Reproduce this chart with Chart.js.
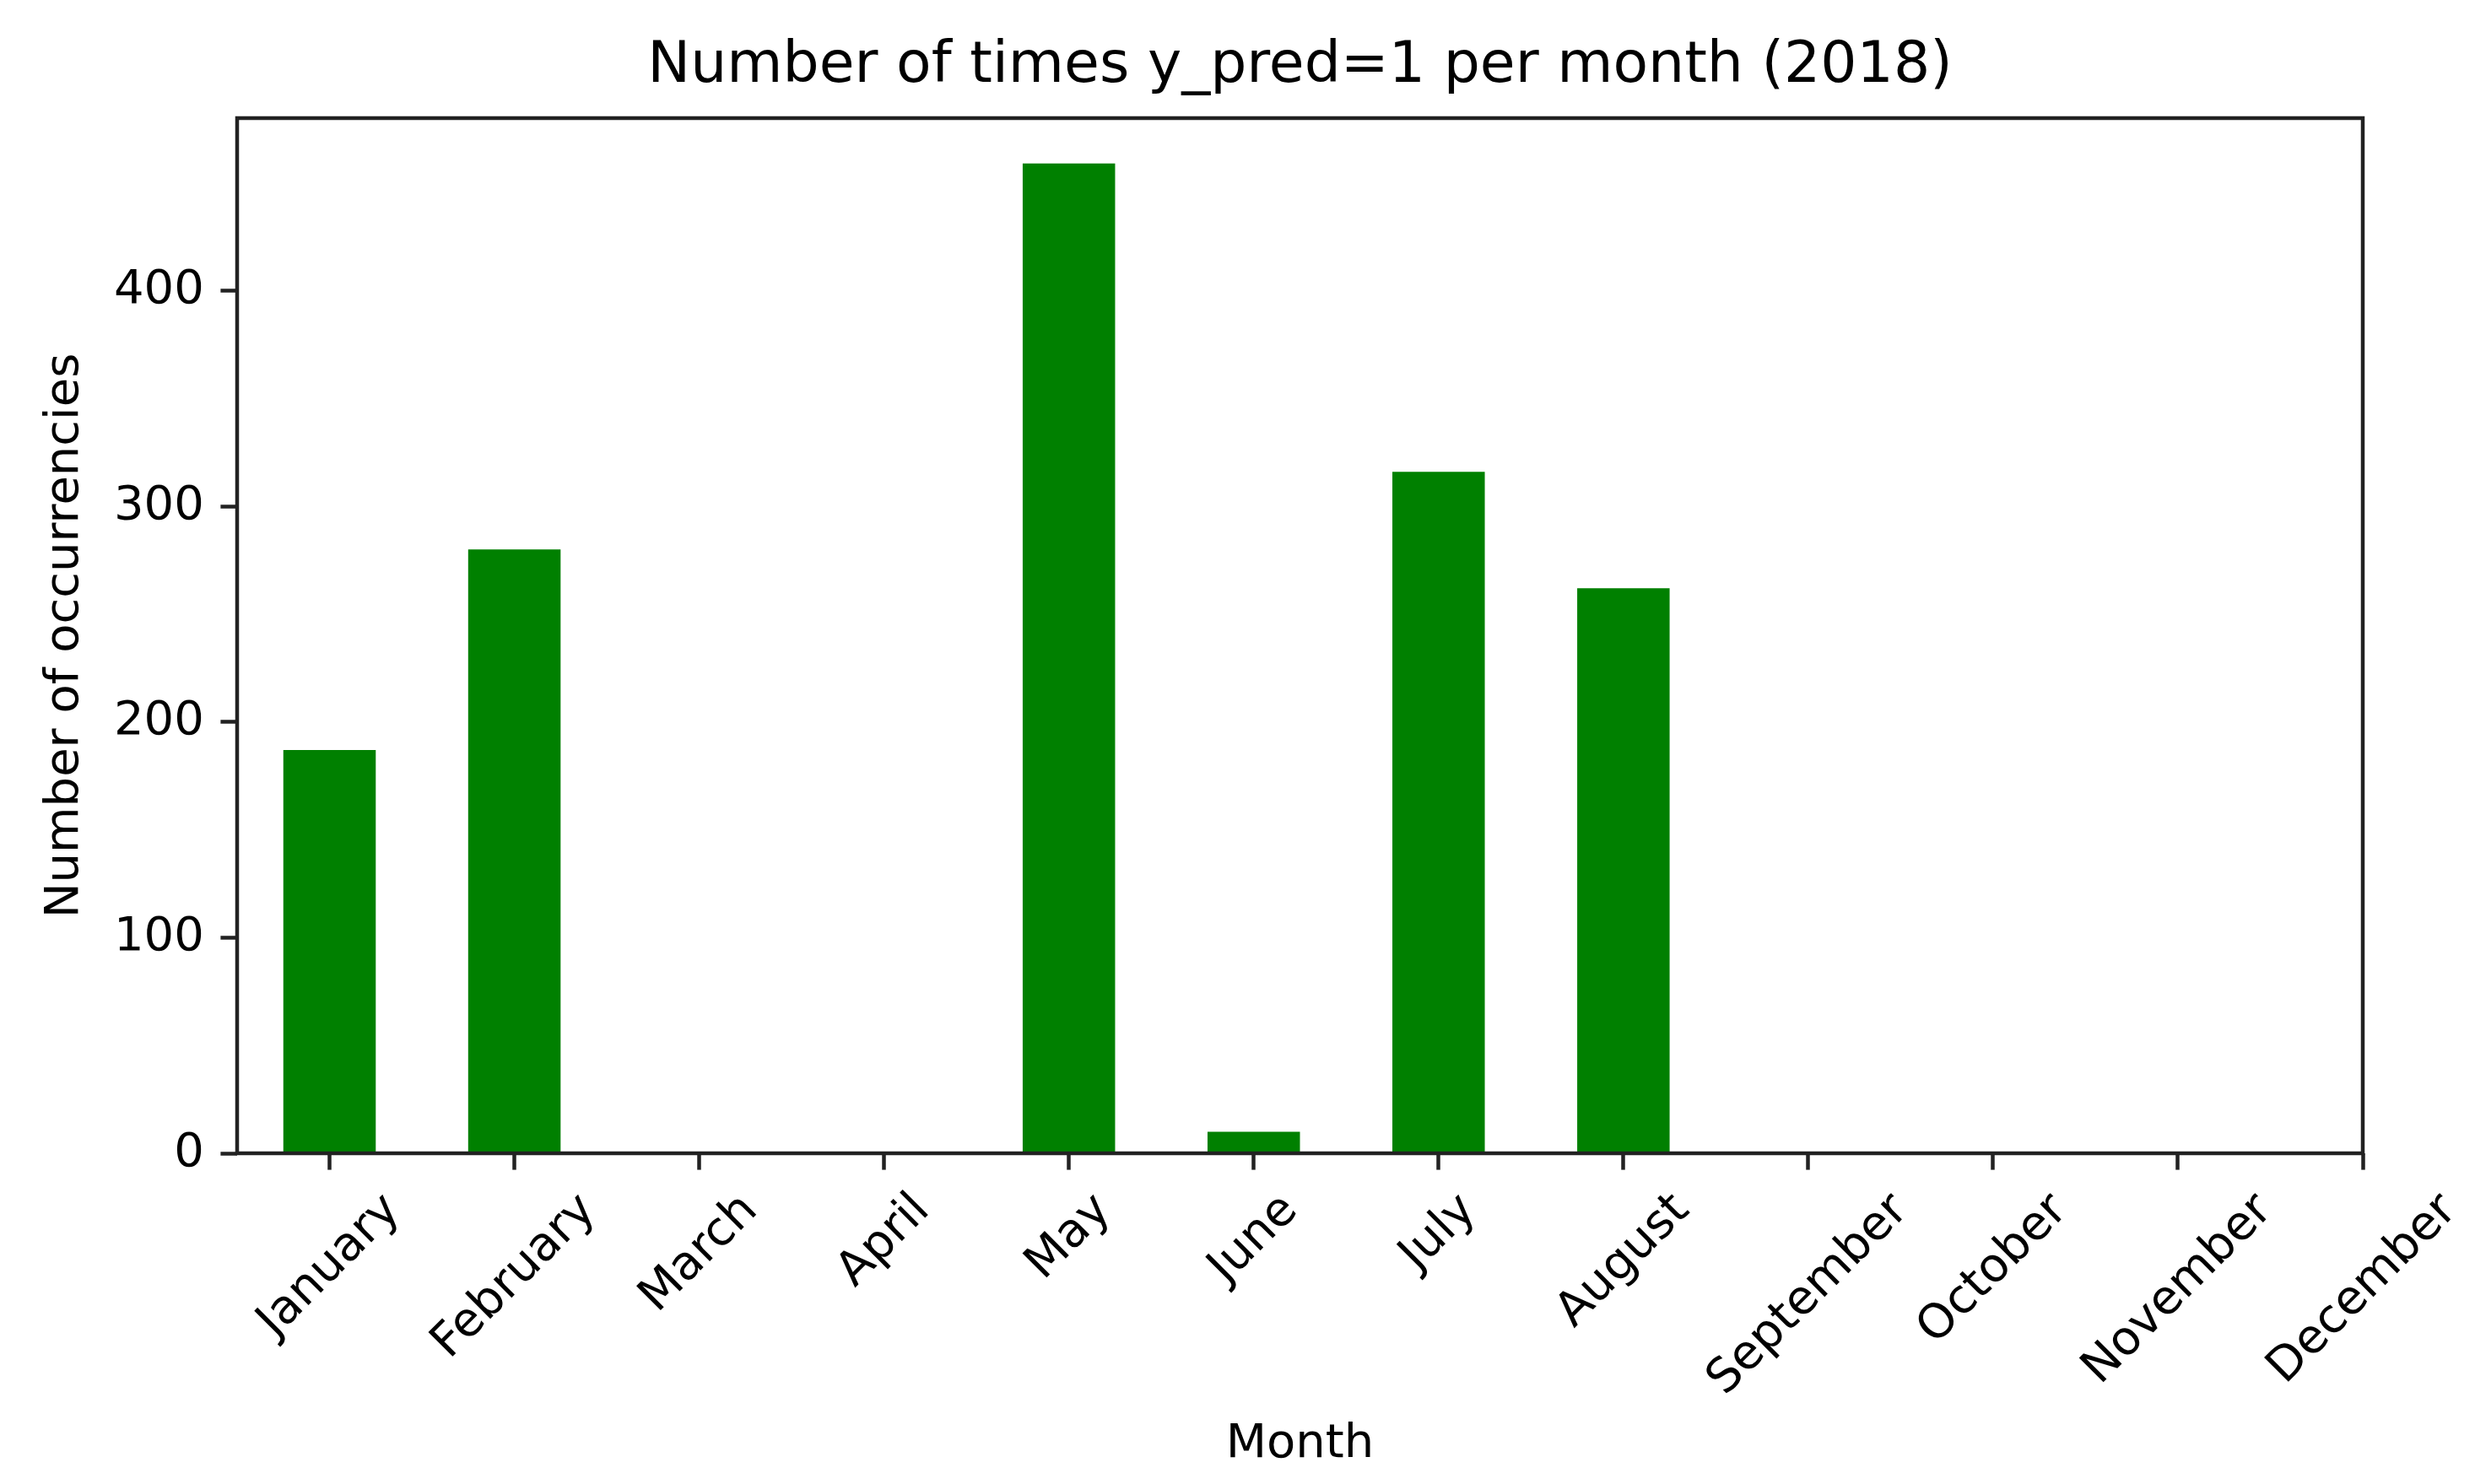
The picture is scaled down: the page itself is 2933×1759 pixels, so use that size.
<!DOCTYPE html>
<html>
<head>
<meta charset="utf-8">
<title>Number of times y_pred=1 per month (2018)</title>
<script src="https://cdn.jsdelivr.net/npm/chart.js@4.4.1/dist/chart.umd.min.js"></script>
<style>
  html, body { margin: 0; padding: 0; background: #fff; }
  canvas { display: block; }
</style>
</head>
<body>
<canvas id="chart" width="2933" height="1759"></canvas>
<script>
const months = ['January', 'February', 'March', 'April', 'May', 'June',
                'July', 'August', 'September', 'October', 'November', 'December'];
const counts = [187, 280, 0, 0, 459, 10, 316, 262, 0, 0, 0, 0];
const yTicks = [0, 100, 200, 300, 400];

// axis limits as matplotlib left them
const xMin = -0.5, xMax = 11, yMax = 480;

const FONT = 'DejaVu Sans';
const INK = '#000';
const SPINE = '#222';
const LW = 4.5;
const TICK_LEN = 19.6;
const TICK_PAD = 19.6;
const W = 2933, H = 1759;
const AREA = { left: 281, top: 140, right: 2800, bottom: 1367 };

// box round the axes (all four spines)
const frame = {
    id: 'frame',
    afterDatasetsDraw(chart) {
        const { ctx, chartArea: a } = chart;
        ctx.save();
        ctx.strokeStyle = SPINE;
        ctx.lineWidth = LW;
        ctx.strokeRect(a.left, a.top, a.right - a.left, a.bottom - a.top);
        ctx.restore();
    }
};

// matplotlib style rotated labels: centred under the tick, not end-anchored
const monthLabels = {
    id: 'monthLabels',
    afterDraw(chart) {
        const { ctx, scales: { x } } = chart;
        const fs = 56;
        const y0 = chart.chartArea.bottom + TICK_LEN + TICK_PAD;
        ctx.save();
        ctx.font = fs + 'px "' + FONT + '"';
        ctx.fillStyle = INK;
        ctx.textAlign = 'center';
        ctx.textBaseline = 'alphabetic';
        months.forEach((m, i) => {
            const w = ctx.measureText(m).width;
            const side = (w + fs * 0.98) / Math.SQRT2;
            ctx.save();
            ctx.translate(x.getPixelForValue(i), y0 + side / 2);
            ctx.rotate(-Math.PI / 4);
            ctx.fillText(m, 0, fs * 0.27);
            ctx.restore();
        });
        ctx.restore();
    }
};

const data = {
    datasets: [{
        label: 'y_pred=1',
        data: counts.map((c, i) => ({ x: i, y: c })),
        backgroundColor: '#008000',
        borderWidth: 0,
        categoryPercentage: 0.5,
        barPercentage: 1.0
    }]
};

const config = {
    type: 'bar',
    data: data,
    options: {
        responsive: false,
        animation: false,
        devicePixelRatio: 1,
        layout: { padding: { left: 0, right: W - AREA.right, top: 0, bottom: 0 } },
        plugins: {
            legend: { display: false },
            tooltip: { enabled: false },
            title: {
                display: true,
                fullSize: false,
                text: 'Number of times y_pred=1 per month (2018)',
                color: INK,
                font: { family: FONT, size: 68, weight: 'normal', lineHeight: 1.2 },
                padding: { top: 39, bottom: 19.4 }
            }
        },
        scales: {
            x: {
                type: 'linear',
                min: xMin,
                max: xMax,
                offset: false,
                afterBuildTicks: s => { s.ticks = months.map((m, i) => ({ value: i })); },
                afterFit: s => { s.height = H - AREA.bottom; },
                ticks: { display: false },
                grid: {
                    offset: false,
                    drawOnChartArea: false,
                    drawTicks: true,
                    tickLength: TICK_LEN,
                    tickWidth: LW,
                    tickColor: SPINE
                },
                border: { display: false },
                title: {
                    display: true,
                    text: 'Month',
                    color: INK,
                    font: { family: FONT, size: 56, lineHeight: 1.2 },
                    padding: { top: 0, bottom: 13 }
                }
            },
            y: {
                min: 0,
                max: yMax,
                afterBuildTicks: s => { s.ticks = yTicks.map(v => ({ value: v })); },
                afterFit: s => { s.width = AREA.left; },
                ticks: {
                    color: INK,
                    font: { family: FONT, size: 56 },
                    padding: TICK_PAD
                },
                grid: {
                    drawOnChartArea: false,
                    drawTicks: true,
                    tickLength: TICK_LEN,
                    tickWidth: LW,
                    tickColor: SPINE
                },
                border: { display: false },
                title: {
                    display: true,
                    text: 'Number of occurrencies',
                    color: INK,
                    font: { family: FONT, size: 56, lineHeight: 1.2 },
                    padding: { top: 44, bottom: 0 }
                }
            }
        }
    },
    plugins: [frame, monthLabels]
};

window.barChart = new Chart(document.getElementById('chart'), config);
</script>
</body>
</html>
